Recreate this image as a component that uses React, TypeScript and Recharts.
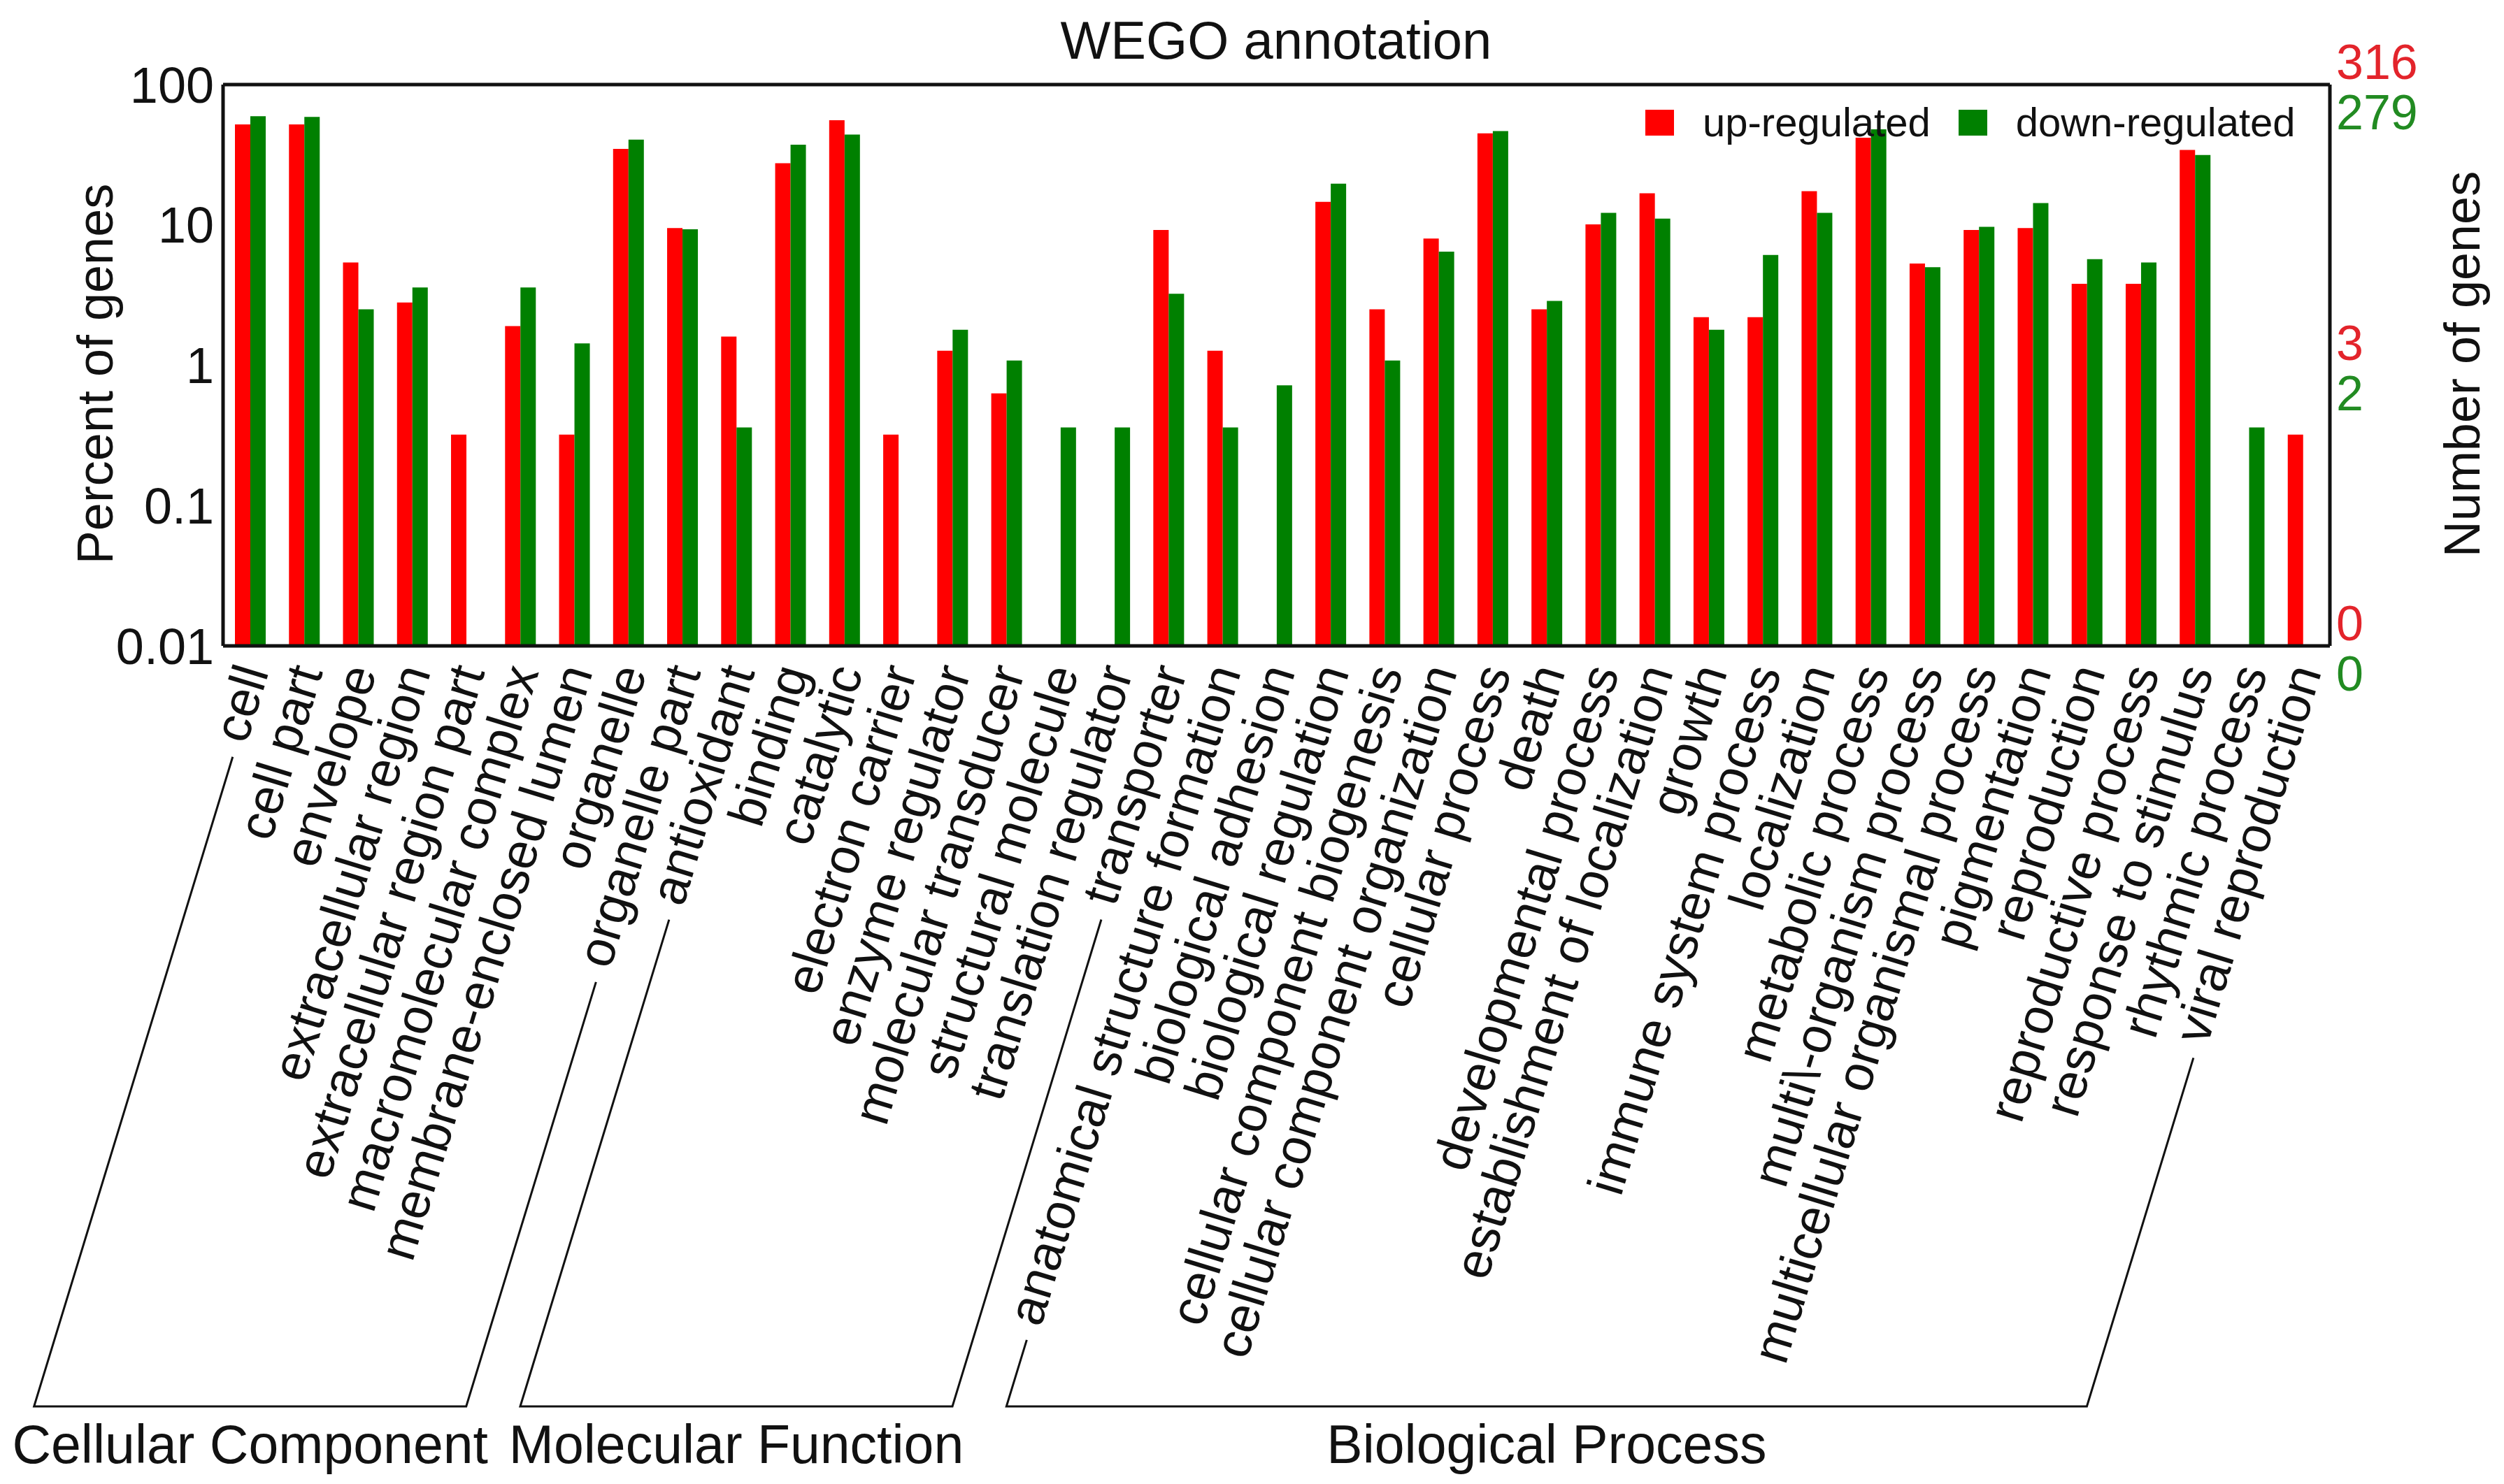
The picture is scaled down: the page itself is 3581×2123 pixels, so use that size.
import React from 'react';
import { BarChart, Bar, XAxis, YAxis, Legend } from 'recharts';

// GO terms along the x axis
const categories = [
  'cell', 'cell part', 'envelope', 'extracellular region', 'extracellular region part',
  'macromolecular complex', 'membrane-enclosed lumen', 'organelle', 'organelle part',
  'antioxidant', 'binding', 'catalytic', 'electron carrier', 'enzyme regulator',
  'molecular transducer', 'structural molecule', 'translation regulator', 'transporter',
  'anatomical structure formation', 'biological adhesion', 'biological regulation',
  'cellular component biogenesis', 'cellular component organization', 'cellular process',
  'death', 'developmental process', 'establishment of localization', 'growth',
  'immune system process', 'localization', 'metabolic process', 'multi\\-organism process',
  'multicellular organismal process', 'pigmentation', 'reproduction', 'reproductive process',
  'response to stimulus', 'rhythmic process', 'viral reproduction',
];

// percent of genes (null = no genes in that term)
const upRegulated = [
  52, 52, 5.4, 2.8, 0.32, 1.9, 0.32, 34.8, 9.5,
  1.6, 27.5, 55.7, 0.32, 1.27, 0.63, null, null, 9.2,
  1.27, null, 14.6, 2.5, 8.0, 44.9, 2.5, 10.1, 16.8, 2.2, 2.2, 17.4,
  41.8, 5.3, 9.2, 9.5, 3.8, 3.8, 34.2, null, 0.32,
];
const downRegulated = [
  59.5, 58.8, 2.5, 3.58, null, 3.58, 1.43, 40.5, 9.3,
  0.36, 37.3, 44, null, 1.79, 1.08, 0.36, 0.36, 3.23,
  0.36, 0.72, 19.7, 1.08, 6.45, 46.6, 2.87, 12.2, 11.1, 1.79, 6.1, 12.2,
  48, 5.0, 9.7, 14.3, 5.7, 5.4, 31.5, 0.36, null,
];

const groups = [
  { name: 'Cellular Component', first: 0, last: 8 },
  { name: 'Molecular Function', first: 9, last: 17 },
  { name: 'Biological Process', first: 18, last: 38 },
];

const percentTicks = [0.01, 0.1, 1, 10, 100];
const countTicks = [0.01, 1, 100];
const upCountLabels = ['0', '3', '316'];
const downCountLabels = ['0', '2', '279'];
const boundaryTicks = categories.slice(1).map((_, i) => i + 1);

const data = categories.map((name, i) => ({
  name,
  idx: i + 0.5,
  up: upRegulated[i],
  down: downRegulated[i],
}));

const W = 3581;
const H = 2123;
const MARGIN = { top: 121, right: 149, bottom: 99, left: 219 };
const Y_AXIS_W = 100;
const X_AXIS_H = 1100;
const PLOT_W = W - MARGIN.left - MARGIN.right - 2 * Y_AXIS_W;
const BAND = PLOT_W / categories.length;

const FONT = '"Liberation Sans", Arial, Helvetica, sans-serif';
const INK = '#111';
const RED = '#ff0000';
const GREEN = '#008000';

// rotated category labels
const ANGLE = 73;
const RAD = (ANGLE * Math.PI) / 180;
const COS = Math.cos(RAD);
const SIN = Math.sin(RAD);
const LABEL_SIZE = 73;
const LABEL_DX = 27;
const LABEL_DY = 37;
const BASE_DY = 1088; // bracket base line, below the x axis
const LINE_GAP = 22;

let ctx: CanvasRenderingContext2D | null = null;
const textWidth = (s: string, size: number) => {
  if (!ctx) ctx = document.createElement('canvas').getContext('2d');
  if (!ctx) return s.length * size * 0.5;
  ctx.font = `${size}px "Liberation Sans"`;
  return ctx.measureText(s).width;
};

// leg of a group bracket: from just past the start of a label down to the base line
const legFor = (x: number, y: number, label: string) => {
  const ax = x + LABEL_DX;
  const ay = y + LABEL_DY;
  const len = textWidth(label, LABEL_SIZE) + LINE_GAP;
  const tx = ax - len * COS - 14 * SIN;
  const ty = ay + len * SIN - 14 * COS;
  const by = y + BASE_DY;
  const bx = tx - ((by - ty) * COS) / SIN;
  return { tx, ty, bx, by };
};

const CategoryTick = (props: any) => {
  const { x, y, payload } = props;
  const label = String(payload.value);
  const i = categories.indexOf(label);
  const ax = x + LABEL_DX;
  const ay = y + LABEL_DY;
  const g = groups.find((gr) => gr.first === i);
  let bracket = null;
  if (g) {
    const left = legFor(x, y, label);
    const right = legFor(x + (g.last - g.first) * BAND, y, categories[g.last]);
    bracket = (
      <g>
        <path
          d={`M${left.tx},${left.ty}L${left.bx},${left.by}L${right.bx},${right.by}L${right.tx},${right.ty}`}
          fill="none"
          stroke={INK}
          strokeWidth={3}
        />
        <text
          x={(left.bx + right.bx) / 2}
          y={left.by + 54}
          textAnchor="middle"
          dominantBaseline="central"
          fontSize={77}
          fontFamily={FONT}
          fill={INK}
        >
          {g.name}
        </text>
      </g>
    );
  }
  return (
    <g>
      <text
        x={ax}
        y={ay}
        transform={`rotate(${-ANGLE} ${ax} ${ay})`}
        textAnchor="end"
        fontSize={LABEL_SIZE}
        fontFamily={FONT}
        fill={INK}
      >
        {label}
      </text>
      {bracket}
    </g>
  );
};

const CountTick = (props: any) => {
  const { x, y, payload } = props;
  const k = countTicks.indexOf(payload.value);
  return (
    <g fontFamily={FONT} fontSize={70}>
      <text x={x} y={y - 32} fill="#e3242b" dominantBaseline="central">
        {upCountLabels[k]}
      </text>
      <text x={x} y={y + 40} fill="#228b22" dominantBaseline="central">
        {downCountLabels[k]}
      </text>
    </g>
  );
};

const legendItems = [
  { name: 'up-regulated', color: RED },
  { name: 'down-regulated', color: GREEN },
];

const LegendContent = () => (
  <div style={{ display: 'flex', alignItems: 'center', fontFamily: FONT, fontSize: 58, color: INK, lineHeight: 1 }}>
    {legendItems.map((it, i) => (
      <div key={it.name} style={{ display: 'flex', alignItems: 'center', marginRight: i === 0 ? 40 : 0 }}>
        <span style={{ display: 'inline-block', width: 41, height: 37, background: it.color, marginRight: 41 }} />
        <span>{it.name}</span>
      </div>
    ))}
  </div>
);

const axisLine = { stroke: INK, strokeWidth: 5 };
const tickLine = { stroke: INK, strokeWidth: 4 };

const overlayText: React.CSSProperties = {
  position: 'absolute',
  fontFamily: FONT,
  color: INK,
  whiteSpace: 'nowrap',
  lineHeight: 1,
};

export default function App() {
  return (
    <div style={{ position: 'absolute', left: 0, top: 0, width: W, height: H, background: '#fff' }}>
      <BarChart width={W} height={H} data={data} margin={MARGIN} barGap={0} barSize={22}>
        <XAxis
          xAxisId="cat"
          dataKey="name"
          type="category"
          interval={0}
          height={X_AXIS_H}
          axisLine={false}
          tickLine={false}
          tickSize={0}
          tickMargin={0}
          tick={<CategoryTick />}
        />
        <XAxis
          xAxisId="gridBottom"
          dataKey="idx"
          type="number"
          domain={[0, categories.length]}
          ticks={boundaryTicks}
          allowDataOverflow
          mirror
          height={1}
          tick={false}
          tickSize={14}
          axisLine={axisLine}
          tickLine={tickLine}
        />
        <XAxis
          xAxisId="gridTop"
          orientation="top"
          dataKey="idx"
          type="number"
          domain={[0, categories.length]}
          ticks={boundaryTicks}
          allowDataOverflow
          mirror
          height={1}
          tick={false}
          tickSize={14}
          axisLine={axisLine}
          tickLine={tickLine}
        />
        <YAxis
          yAxisId="left"
          scale="log"
          domain={[0.01, 100]}
          ticks={percentTicks}
          allowDataOverflow
          width={Y_AXIS_W}
          tickLine={false}
          tickSize={0}
          tickMargin={13}
          axisLine={axisLine}
          tick={{ fontSize: 72, fill: INK, fontFamily: FONT }}
          tickFormatter={(v: number) => String(v)}
        />
        <YAxis
          yAxisId="leftTicks"
          scale="log"
          domain={[0.01, 100]}
          ticks={percentTicks}
          allowDataOverflow
          mirror
          width={1}
          tick={false}
          tickSize={16}
          axisLine={false}
          tickLine={tickLine}
        />
        <YAxis
          yAxisId="right"
          orientation="right"
          scale="log"
          domain={[0.01, 100]}
          ticks={countTicks}
          allowDataOverflow
          width={Y_AXIS_W}
          tickLine={false}
          tickSize={0}
          tickMargin={9}
          axisLine={axisLine}
          tick={<CountTick />}
        />
        <YAxis
          yAxisId="rightTicks"
          orientation="right"
          scale="log"
          domain={[0.01, 100]}
          ticks={[1]}
          allowDataOverflow
          mirror
          width={1}
          tick={false}
          tickSize={15}
          axisLine={false}
          tickLine={tickLine}
        />
        <Legend
          layout="horizontal"
          verticalAlign="middle"
          align="center"
          content={<LegendContent />}
          wrapperStyle={{ position: 'absolute', left: 2353, top: 146, width: 'auto', height: 'auto' }}
        />
        <Bar xAxisId="cat" yAxisId="left" dataKey="up" name="up-regulated" fill={RED} isAnimationActive={false} />
        <Bar xAxisId="cat" yAxisId="left" dataKey="down" name="down-regulated" fill={GREEN} isAnimationActive={false} />
      </BarChart>

      <div style={{ ...overlayText, left: 1825, top: 58, fontSize: 76, transform: 'translate(-50%, -50%)' }}>
        WEGO annotation
      </div>
      <div style={{ ...overlayText, left: 136, top: 535, fontSize: 72, transform: 'translate(-50%, -50%) rotate(-90deg)' }}>
        Percent of genes
      </div>
      <div style={{ ...overlayText, left: 3521, top: 521, fontSize: 72, transform: 'translate(-50%, -50%) rotate(-90deg)' }}>
        Number of genes
      </div>
    </div>
  );
}
